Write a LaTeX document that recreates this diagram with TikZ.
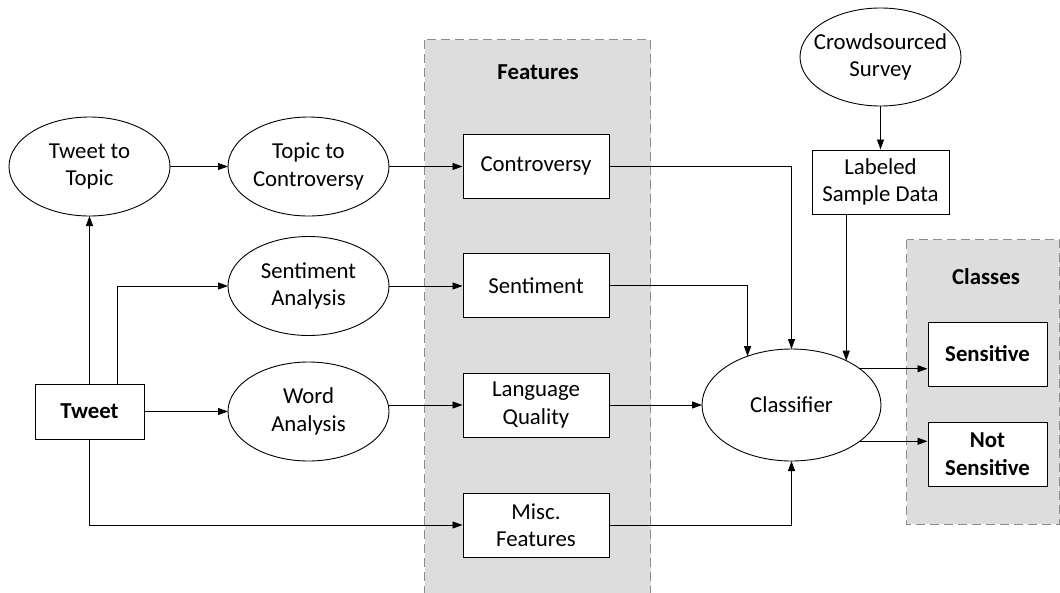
\documentclass[tikz,border=0pt]{standalone}
\usepackage{fontspec}
\setmainfont{Carlito}
\usetikzlibrary{shapes.geometric,arrows.meta,calc}
\definecolor{grpfill}{RGB}{221,221,221}
\definecolor{grpline}{RGB}{140,140,140}
\begin{document}
\begin{tikzpicture}[x=1pt,y=-1pt,
  font=\fontsize{22.8}{27.5}\selectfont,
  box/.style={draw, fill=white, line width=1pt, minimum width=146pt, minimum height=64pt, inner sep=0pt, align=center},
  ell/.style={draw, ellipse, fill=white, line width=0.9pt, inner sep=0pt, outer sep=0pt, minimum width=161pt, minimum height=99pt},
  arr/.style={line width=0.9pt, -{Triangle[length=10pt,width=7pt]}},
  grp/.style={fill=grpfill, draw=grpline, line width=1pt, dash pattern=on 9pt off 5pt},
]
\useasboundingbox (0,0) rectangle (1060,592);
% groups
\path[grp] (424.5,39.5) rectangle (650.5,610);
\path[grp] (906.5,239.5) rectangle (1059.5,524);
\node (ft) at (538,72) {\textbf{Features}};
\node (cl) at (986,277) {\textbf{Classes}};
% ellipses
\node[ell, label={[align=center]center:Tweet to\\Topic}] (tt) at (89.5,166.5) {};
\node[ell, label={[align=center]center:Topic to\\Controversy}] (tc) at (308.5,166.5) {};
\node[ell, label={[align=center]center:Sentiment\\Analysis}] (sa) at (308.5,286) {};
\node[ell, label={[align=center]center:Word\\Analysis}] (wa) at (308.5,411.5) {};
\node[ell, minimum height=98pt, label={[align=center]center:Crowdsourced\\Survey}] (cs) at (880.5,57) {};
\node[ell, minimum width=179pt, minimum height=112pt, label={center:Classifier}] (clf) at (791.5,405) {};
% boxes
\node[box, minimum width=109pt, minimum height=55pt] (tweet) at (89.5,411.5) {\textbf{Tweet}};
\node[box] (contr) at (536,166) {Controversy};
\node[box] (sent) at (536,285.5) {Sentiment};
\node[box] (lq) at (536,405) {Language\\Quality};
\node[box] (misc) at (536,525) {Misc.\\Features};
\node[box, minimum width=137pt] (lab) at (880.5,182) {Labeled\\Sample Data};
\node[box, minimum width=119pt] (sens) at (987.5,354) {\textbf{Sensitive}};
\node[box, minimum width=119pt] (nsens) at (987.5,454) {\textbf{Not}\\\textbf{Sensitive}};
% connectors
\draw[arr] (tweet.north) -- (tt.south);
\draw[arr] (tt.east) -- (tc.west);
\draw[arr] (tc.east) -- (tc.east -| contr.west);
\draw[arr] ([xshift=27.5pt]tweet.north) |- (sa.west);
\draw[arr] (sa.east) -- (sa.east -| sent.west);
\draw[arr] (tweet.east) -- (wa.west);
\draw[arr] (wa.east |- lq.west) -- (lq.west);
\draw[arr] (tweet.south) |- (misc.west);
\draw[arr] (contr.east) -| (clf.north);
\draw[arr] (sent.east) -| (clf.132.5);
\draw[arr] (lq.east) -- (clf.west);
\draw[arr] (misc.east) -| (clf.south);
\draw[arr] (cs.south) -- (lab.north);
\draw[arr] (lab.south -| clf.39.2) -- (clf.39.2);
\draw[arr] (clf.28.8) -- (clf.28.8 -| sens.west);
\draw[arr] (clf.-28.8) -- (clf.-28.8 -| nsens.west);
\end{tikzpicture}
\end{document}
